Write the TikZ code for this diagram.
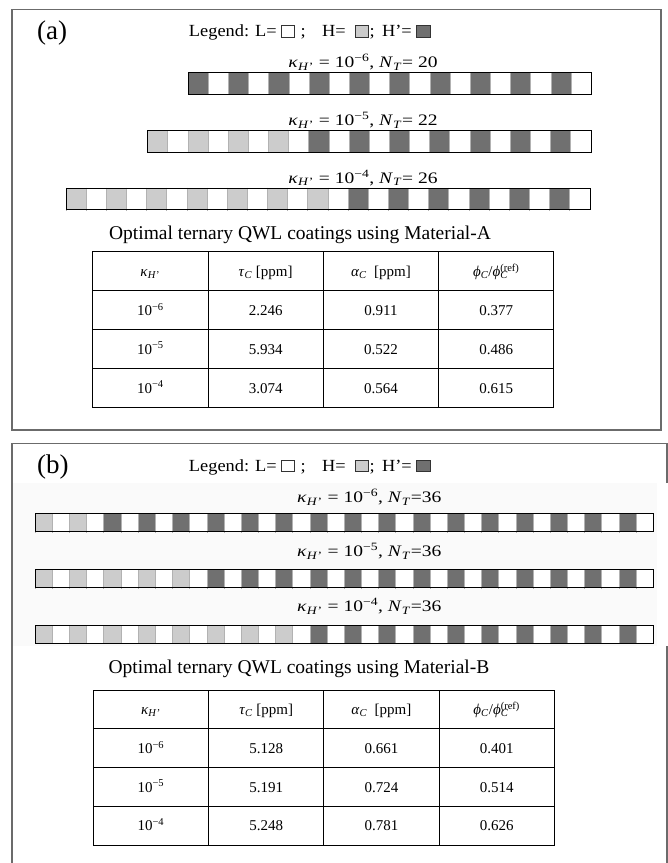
\documentclass[tikz,border=0pt]{standalone}
\usepackage{fontspec}
\usepackage{graphicx}
\setmainfont{Liberation Serif}
\definecolor{dk}{gray}{0.44}
\definecolor{lt}{gray}{0.8}
\definecolor{frm}{gray}{0.42}
\tikzset{
 txt/.style={inner sep=0pt, font=\fontsize{16}{18}\selectfont},
 lgd/.style={inner sep=0pt, font=\fontsize{17}{19}\selectfont},
 capt/.style={inner sep=0pt, font=\fontsize{19.5}{22}\selectfont},
 plabel/.style={inner sep=0pt, font=\fontsize{27}{30}\selectfont},
 tcell/.style={draw=black, line width=0.9pt, inner sep=0pt, minimum width=115.3pt, minimum height=38.9pt, text height=13.5pt, text depth=3pt, font=\fontsize{15}{17}\selectfont},
 sqbox/.style={draw=black!80, line width=0.6pt, inner sep=0pt, minimum width=13.6pt, minimum height=11.3pt, anchor=south west},
 barframe/.style={draw=black, line width=0.9pt, inner sep=0pt, anchor=north west},
 sepline/.style={draw=gray!60, line width=0.4pt},
 panelframe/.style={draw=frm, line width=1.3pt},
}
\newcommand{\kH}{\textit{κ}\textsubscript{\textit{H}\kern0.3pt'}}
\newcommand{\NT}{\textit{N}\textsubscript{\textit{T}}}
\newcommand{\wide}[1]{\scalebox{1.22}[1]{#1}}
\newcommand{\lwide}[1]{\scalebox{1.08}[1]{#1}}
\newcommand{\coatbar}[7]{%
  \pgfmathtruncatemacro{\cblast}{#5-1}%
  \foreach \i in {0,...,\cblast}{%
    \pgfmathtruncatemacro{\cbodd}{mod(\i,2)}%
    \pgfmathtruncatemacro{\cbpair}{div(\i,2)}%
    \ifnum\cbodd=1 \def\cbcol{white}\else
      \ifnum\cbpair<#6 \def\cbcol{lt}\else\def\cbcol{dk}\fi\fi
    \fill[\cbcol] ({#2+\i*#7},#3) rectangle ({#2+(\i+1)*#7},#4);
    \draw[sepline] ({#2+\i*#7},#3) -- ({#2+\i*#7},{#4+1.5});
  }%
  \node[barframe, minimum width={#5*#7}, minimum height={#4-#3}] (#1) at (#2,#3) {};
}
\newcommand{\legendrow}[1]{%
  \node[lgd, anchor=base east] (#1t1) at (277,36.7) {\lwide{Legend: L=}};
  \node[sqbox, fill=white] (#1s1) at (280.7,37.3) {};
  \node[lgd, anchor=base west] (#1t2) at (300.5,36.7) {\lwide{;}};
  \node[lgd, anchor=base east] (#1t3) at (346,36.7) {\lwide{H=}};
  \node[sqbox, fill=lt] (#1s2) at (354.5,37.3) {};
  \node[lgd, anchor=base west] (#1t4) at (369.3,36.7) {\lwide{;}};
  \node[lgd, anchor=base east] (#1t5) at (412,36.7) {\lwide{H’=}};
  \node[sqbox, fill=dk] (#1s3) at (416,37.3) {};
}
\newcommand{\phiratio}{\textit{ϕ}\textsubscript{\textit{C}}/\textit{ϕ}\rlap{\textsubscript{\textit{C}}}\textsuperscript{(ref)}}
\begin{document}
\begin{tikzpicture}[x=1pt,y=-1pt]
\useasboundingbox (0,0) rectangle (668,863);
\fill[white] (0,0) rectangle (668,863);

% ---------------- Panel (a)
\draw[panelframe] (12,9.5) rectangle (661,430);
\node[plabel, anchor=base west] (pa) at (37,39.3) {(a)};
\legendrow{la}

\node[txt, anchor=base] (laba1) at (363,67.5) {\wide{\kH{} = 10\textsuperscript{−6}, \NT= 20}};
\node[txt, anchor=base] (laba2) at (363,125.7) {\wide{\kH{} = 10\textsuperscript{−5}, \NT= 22}};
\node[txt, anchor=base] (laba3) at (363,183.3) {\wide{\kH{} = 10\textsuperscript{−4}, \NT= 26}};

\coatbar{bara1}{188}{72}{93.7}{20}{0}{20.15}
\coatbar{bara2}{147.4}{130}{151.7}{22}{4}{20.15}
\coatbar{bara3}{65.8}{187.7}{209.3}{26}{7}{20.15}

\node[capt, anchor=base] (capa) at (300,239.5) {Optimal ternary QWL coatings using Material-A};

\node[tcell] (ta11) at (150.35,271.15) {\kH};
\node[tcell] (ta12) at (265.65,271.15) {\textit{τ}\textsubscript{\textit{C}} [ppm]};
\node[tcell] (ta13) at (380.95,271.15) {\textit{α}\textsubscript{\textit{C}}\enspace[ppm]};
\node[tcell] (ta14) at (496.25,271.15) {\phiratio};
\node[tcell] (ta21) at (150.35,310.05) {10\textsuperscript{−6}};
\node[tcell] (ta22) at (265.65,310.05) {2.246};
\node[tcell] (ta23) at (380.95,310.05) {0.911};
\node[tcell] (ta24) at (496.25,310.05) {0.377};
\node[tcell] (ta31) at (150.35,348.95) {10\textsuperscript{−5}};
\node[tcell] (ta32) at (265.65,348.95) {5.934};
\node[tcell] (ta33) at (380.95,348.95) {0.522};
\node[tcell] (ta34) at (496.25,348.95) {0.486};
\node[tcell] (ta41) at (150.35,387.85) {10\textsuperscript{−4}};
\node[tcell] (ta42) at (265.65,387.85) {3.074};
\node[tcell] (ta43) at (380.95,387.85) {0.564};
\node[tcell] (ta44) at (496.25,387.85) {0.615};

% ---------------- Panel (b)
\fill[black!2] (13,483) rectangle (657,646);
\draw[panelframe] (12,863) -- (12,443.3) -- (667,443.3) -- (667,483);
\draw[panelframe] (667,646) -- (667,863);
\node[plabel, anchor=base west] (pb) at (37,473.3) {(b)};
\begin{scope}[yshift=-434.3pt]
\legendrow{lb}
\end{scope}

\node[txt, anchor=base] (labb1) at (369.3,502.7) {\wide{\kH{} = 10\textsuperscript{−6}, \NT=36}};
\node[txt, anchor=base] (labb2) at (369.3,556.7) {\wide{\kH{} = 10\textsuperscript{−5}, \NT=36}};
\node[txt, anchor=base] (labb3) at (369.3,611.7) {\wide{\kH{} = 10\textsuperscript{−4}, \NT=36}};

\coatbar{barb1}{35}{513.3}{531}{36}{2}{17.17}
\coatbar{barb2}{35}{569.3}{587}{36}{5}{17.17}
\coatbar{barb3}{35}{625.3}{642.7}{36}{8}{17.17}

\node[capt, anchor=base] (capb) at (299,673.5) {Optimal ternary QWL coatings using Material-B};

\node[tcell] (tb11) at (150.9,709.4) {\kH};
\node[tcell] (tb12) at (266.2,709.4) {\textit{τ}\textsubscript{\textit{C}} [ppm]};
\node[tcell] (tb13) at (381.4,709.4) {\textit{α}\textsubscript{\textit{C}}\enspace[ppm]};
\node[tcell] (tb14) at (496.7,709.4) {\phiratio};
\node[tcell] (tb21) at (150.9,748.1) {10\textsuperscript{−6}};
\node[tcell] (tb22) at (266.2,748.1) {5.128};
\node[tcell] (tb23) at (381.4,748.1) {0.661};
\node[tcell] (tb24) at (496.7,748.1) {0.401};
\node[tcell] (tb31) at (150.9,786.9) {10\textsuperscript{−5}};
\node[tcell] (tb32) at (266.2,786.9) {5.191};
\node[tcell] (tb33) at (381.4,786.9) {0.724};
\node[tcell] (tb34) at (496.7,786.9) {0.514};
\node[tcell] (tb41) at (150.9,825.6) {10\textsuperscript{−4}};
\node[tcell] (tb42) at (266.2,825.6) {5.248};
\node[tcell] (tb43) at (381.4,825.6) {0.781};
\node[tcell] (tb44) at (496.7,825.6) {0.626};
\end{tikzpicture}
\end{document}
